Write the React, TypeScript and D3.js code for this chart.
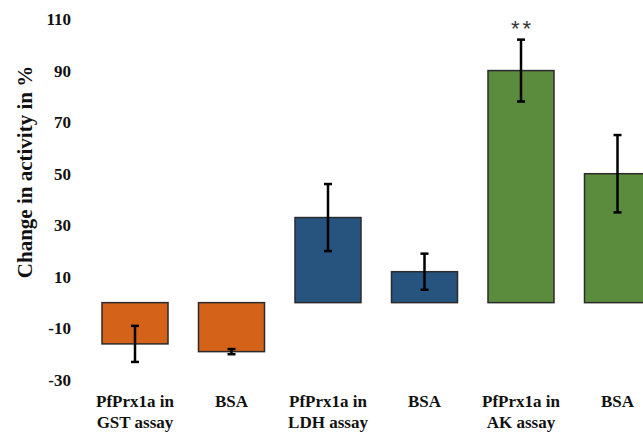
import React, { useRef, useEffect } from 'react';
import * as d3 from 'd3';

const categories = ['PfPrx1a in GST assay', 'BSA (GST)', 'PfPrx1a in LDH assay', 'BSA (LDH)', 'PfPrx1a in AK assay', 'BSA (AK)'];
const labelLines = [['PfPrx1a in', 'GST assay'], ['BSA'], ['PfPrx1a in', 'LDH assay'], ['BSA'], ['PfPrx1a in', 'AK assay'], ['BSA']];
const values = [-16, -19, 33, 12, 90, 50];
const errors = [7, 1, 13, 7, 12, 15];
const colors = ['#D46319', '#D46319', '#26547F', '#26547F', '#5B8B3D', '#5B8B3D'];
const significance = ['', '', '', '', '**', ''];
const yTicks = [-30, -10, 10, 30, 50, 70, 90, 110];

const App = () => {
  const ref = useRef<SVGSVGElement>(null);

  useEffect(() => {
    const svg = d3.select(ref.current);
    svg.selectAll('*').remove();

    const y = d3.scaleLinear().domain([-30, 110]).range([380, 19]);
    const x = d3
      .scaleBand()
      .domain(categories)
      .range([86.75, 665.75])
      .paddingInner(0.316)
      .paddingOuter(0.158);

    const font = 'Liberation Serif, Times New Roman, serif';

    // y tick labels (no axis line)
    svg
      .append('g')
      .selectAll('text')
      .data(yTicks)
      .enter()
      .append('text')
      .attr('x', 71)
      .attr('y', (d) => y(d))
      .attr('dy', '0.35em')
      .attr('text-anchor', 'end')
      .style('font-family', font)
      .style('font-weight', 'bold')
      .style('font-size', '17px')
      .attr('fill', '#111')
      .text((d) => d);

    svg
      .append('text')
      .attr('transform', 'translate(32,172) rotate(-90)')
      .attr('text-anchor', 'middle')
      .style('font-family', font)
      .style('font-weight', 'bold')
      .style('font-size', '21px')
      .attr('fill', '#111')
      .text('Change in activity in %');

    // bars
    svg
      .append('g')
      .selectAll('rect')
      .data(values)
      .enter()
      .append('rect')
      .attr('x', (d, i) => x(categories[i])!)
      .attr('y', (d) => y(Math.max(0, d)))
      .attr('width', x.bandwidth())
      .attr('height', (d) => Math.abs(y(d) - y(0)))
      .attr('fill', (d, i) => colors[i])
      .attr('stroke', '#2b2b2b')
      .attr('stroke-width', 1.5);

    // error bars
    const eg = svg.append('g').attr('stroke', '#000').attr('stroke-width', 2.5);
    values.forEach((v, i) => {
      const cx = x(categories[i])! + x.bandwidth() / 2;
      const y1 = y(v + errors[i]);
      const y2 = y(v - errors[i]);
      eg.append('line').attr('x1', cx).attr('x2', cx).attr('y1', y1).attr('y2', y2);
      eg.append('line').attr('x1', cx - 4).attr('x2', cx + 4).attr('y1', y1).attr('y2', y1);
      eg.append('line').attr('x1', cx - 4).attr('x2', cx + 4).attr('y1', y2).attr('y2', y2);
    });

    // significance markers
    svg
      .append('g')
      .selectAll('text')
      .data(significance)
      .enter()
      .append('text')
      .attr('x', (d, i) => x(categories[i])! + x.bandwidth() / 2 + 1.5)
      .attr('y', (d, i) => y(values[i] + errors[i]) - 4)
      .attr('text-anchor', 'middle')
      .style('font-family', 'Liberation Sans, Arial, sans-serif')
      .style('font-size', '22px')
      .style('letter-spacing', '3px')
      .attr('fill', '#333')
      .text((d) => d);

    // category labels
    const lg = svg.append('g');
    labelLines.forEach((lines, i) => {
      const cx = x(categories[i])! + x.bandwidth() / 2;
      const t = lg
        .append('text')
        .attr('text-anchor', 'middle')
        .style('font-family', font)
        .style('font-weight', 'bold')
        .style('font-size', '17px')
        .attr('fill', '#111');
      lines.forEach((l, j) => {
        t.append('tspan').attr('x', cx).attr('y', 407 + j * 21).text(l);
      });
    });
  }, []);

  return (
    <svg
      ref={ref}
      width={643}
      height={433}
      style={{ position: 'absolute', left: 0, top: 0, background: '#fff' }}
    ></svg>
  );
};

export default App;
